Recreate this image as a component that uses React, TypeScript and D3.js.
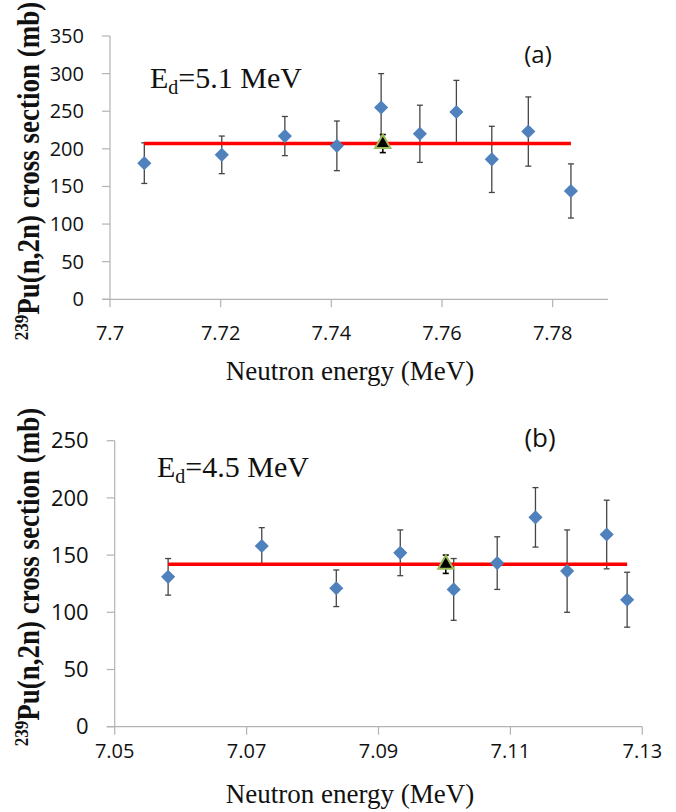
import React from "react";
import * as d3 from "d3";

// ---------- Panel (a): Ed = 5.1 MeV ----------
const energyA = [7.7062, 7.7202, 7.7316, 7.741, 7.749, 7.756, 7.7626, 7.769, 7.7756, 7.7833];
const xsA = [181, 192, 217, 204, 255, 220, 249, 186, 223, 144];
const errA = [27, 25, 26, 33, 45, 38, 42, 44, 46, 36];
const meanEnergyA = [7.7493];
const meanXsA = [207];
const meanErrA = [12];
const fitA = 207;
const xTicksA = [7.7, 7.72, 7.74, 7.76, 7.78];
const yTicksA = [0, 50, 100, 150, 200, 250, 300, 350];

// ---------- Panel (b): Ed = 4.5 MeV ----------
const energyB = [7.0581, 7.0723, 7.0836, 7.0933, 7.1014, 7.108, 7.1138, 7.1186, 7.1246, 7.1277];
const xsB = [131, 158, 121, 152, 120, 143, 183, 136, 168, 111];
const errB = [16, 16, 16, 20, 27, 23, 26, 36, 30, 24];
const meanEnergyB = [7.1002];
const meanXsB = [142];
const meanErrB = [8];
const fitB = 142;
const xTicksB = [7.05, 7.07, 7.09, 7.11, 7.13];
const yTicksB = [0, 50, 100, 150, 200, 250];

const SERIF = "'Liberation Serif', 'Times New Roman', serif";
const SANS = "'Open Sans', 'Liberation Sans', sans-serif";
const AXIS = "#b3b3b3";
const BLUE = "#4f81bd";

type PanelProps = {
  energy: number[];
  xs: number[];
  err: number[];
  mE: number[];
  mX: number[];
  mErr: number[];
  fit: number;
  xTicks: number[];
  yTicks: number[];
  xDomain: [number, number];
  yDomain: [number, number];
  xRange: [number, number];
  yRange: [number, number];
  yTickFont: number;
  xTickFont: number;
  xTickBase: number;
  titleBase: number;
  edLabel: string;
  edX: number;
  edY: number;
  tag: string;
  tagX: number;
  tagY: number;
  tagFont: number;
  ylabCenter: number;
};

function Panel(p: PanelProps) {
  const x = d3.scaleLinear().domain(p.xDomain).range(p.xRange);
  const y = d3.scaleLinear().domain(p.yDomain).range(p.yRange);
  const diamond = d3.symbol().type(d3.symbolSquare).size(100)();
  const tri = d3.symbol().type(d3.symbolTriangle).size(100)();
  const cap = 3;
  const fmt = (v: number) => String(+v.toFixed(2));
  const x0 = p.xRange[0];
  const y0 = p.yRange[0];
  return (
    <g>
      {/* axes */}
      <line x1={x0} x2={x0} y1={y(p.yDomain[1])} y2={y0} stroke={AXIS} strokeWidth={1.2} />
      <line x1={x0 - 8} x2={p.xRange[1]} y1={y0} y2={y0} stroke={AXIS} strokeWidth={1.2} />
      {p.yTicks.map((t) => (
        <g key={"y" + t}>
          <line x1={x0 - 8} x2={x0} y1={y(t)} y2={y(t)} stroke={AXIS} strokeWidth={1.2} />
          <text x={x0 - 26} y={y(t)} dy="0.35em" textAnchor="end" fontFamily={SANS} fontSize={p.yTickFont} fill="#111">
            {t}
          </text>
        </g>
      ))}
      {p.xTicks.map((t) => (
        <g key={"x" + t}>
          <line x1={x(t)} x2={x(t)} y1={y0} y2={y0 + 8} stroke={AXIS} strokeWidth={1.2} />
          <text x={x(t)} y={p.xTickBase} textAnchor="middle" fontFamily={SANS} fontSize={p.xTickFont} fill="#111">
            {fmt(t)}
          </text>
        </g>
      ))}
      {/* error bars */}
      {p.energy.map((e, i) => (
        <g key={"e" + i} stroke="#454545" strokeWidth={1.3}>
          <line x1={x(e)} x2={x(e)} y1={y(p.xs[i] + p.err[i])} y2={y(p.xs[i] - p.err[i])} />
          <line x1={x(e) - cap} x2={x(e) + cap} y1={y(p.xs[i] + p.err[i])} y2={y(p.xs[i] + p.err[i])} />
          <line x1={x(e) - cap} x2={x(e) + cap} y1={y(p.xs[i] - p.err[i])} y2={y(p.xs[i] - p.err[i])} />
        </g>
      ))}
      {/* fitted average line */}
      <line
        x1={x(d3.min(p.energy)!)}
        x2={x(d3.max(p.energy)!)}
        y1={y(p.fit)}
        y2={y(p.fit)}
        stroke="#ff0000"
        strokeWidth={3.5}
      />
      {/* data points */}
      {p.energy.map((e, i) => (
        <path key={"d" + i} d={diamond} transform={`translate(${x(e)},${y(p.xs[i])}) rotate(45)`} fill={BLUE} />
      ))}
      {/* mean point */}
      {p.mE.map((e, i) => (
        <g key={"m" + i}>
          <g stroke="#000" strokeWidth={1.6}>
            <line x1={x(e)} x2={x(e)} y1={y(p.mX[i] + p.mErr[i])} y2={y(p.mX[i] - p.mErr[i])} />
            <line x1={x(e) - cap} x2={x(e) + cap} y1={y(p.mX[i] + p.mErr[i])} y2={y(p.mX[i] + p.mErr[i])} />
            <line x1={x(e) - cap} x2={x(e) + cap} y1={y(p.mX[i] - p.mErr[i])} y2={y(p.mX[i] - p.mErr[i])} />
          </g>
          <path d={tri} transform={`translate(${x(e)},${y(p.mX[i])})`} fill="#000" stroke="#9bbb59" strokeWidth={2} />
        </g>
      ))}
      {/* texts */}
      <text x={p.edX} y={p.edY} fontFamily={SERIF} fontSize={30} fill="#111">
        E<tspan fontSize={20} dy={6}>d</tspan>
        <tspan dy={-6}>{p.edLabel}</tspan>
      </text>
      <text x={p.tagX} y={p.tagY} textAnchor="middle" fontFamily={SANS} fontSize={p.tagFont} fill="#111">
        {p.tag}
      </text>
      <text x={350} y={p.titleBase} textAnchor="middle" fontFamily={SERIF} fontSize={27} fill="#111">
        Neutron energy (MeV)
      </text>
      <text
        transform={`translate(39,${p.ylabCenter}) rotate(-90) scale(1,1.15)`}
        textAnchor="middle"
        fontFamily={SERIF}
        fontWeight="bold"
        fontSize={27}
        fill="#111"
      >
        <tspan fontSize={17} dy={-10}>239</tspan>
        <tspan dy={10}>Pu(n,2n) cross section (mb)</tspan>
      </text>
    </g>
  );
}

export default function App() {
  return (
    <svg
      width={676}
      height={812}
      style={{ position: "absolute", left: 0, top: 0, background: "#fff" }}
    >
      <rect width={676} height={812} fill="#fff" />
      <Panel
        energy={energyA}
        xs={xsA}
        err={errA}
        mE={meanEnergyA}
        mX={meanXsA}
        mErr={meanErrA}
        fit={fitA}
        xTicks={xTicksA}
        yTicks={yTicksA}
        xDomain={[7.7, 7.79]}
        yDomain={[0, 350]}
        xRange={[110, 608]}
        yRange={[299.3, 36]}
        yTickFont={20}
        xTickFont={20}
        xTickBase={340}
        titleBase={380}
        edLabel="=5.1 MeV"
        edX={150}
        edY={88}
        tag="(a)"
        tagX={538}
        tagY={63}
        tagFont={24}
        ylabCenter={171}
      />
      <Panel
        energy={energyB}
        xs={xsB}
        err={errB}
        mE={meanEnergyB}
        mX={meanXsB}
        mErr={meanErrB}
        fit={fitB}
        xTicks={xTicksB}
        yTicks={yTicksB}
        xDomain={[7.05, 7.13]}
        yDomain={[0, 250]}
        xRange={[114.7, 642.3]}
        yRange={[726.7, 440.7]}
        yTickFont={22}
        xTickFont={20}
        xTickBase={758}
        titleBase={803}
        edLabel="=4.5 MeV"
        edX={157}
        edY={477}
        tag="(b)"
        tagX={540}
        tagY={447}
        tagFont={26}
        ylabCenter={577}
      />
    </svg>
  );
}
